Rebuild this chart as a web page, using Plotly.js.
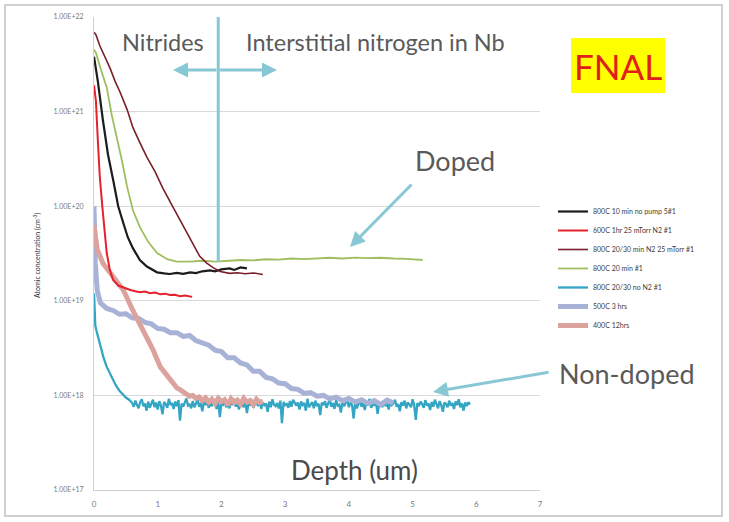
<!DOCTYPE html>
<html>
<head>
<meta charset="utf-8">
<script src="https://cdn.plot.ly/plotly-3.0.1.min.js"></script>
<style>
  html, body { margin: 0; padding: 0; background: #ffffff; }
  #chart { width: 729px; height: 522px; }
</style>
</head>
<body>
<div id="chart"></div>
<script>
// SIMS nitrogen depth profiles in Nb for several furnace treatments.
// Depth in micrometres, concentration in atoms per cm^3.

const seriesNames = [
  "800C 10 min no pump 5#1",
  "600C 1hr 25 mTorr N2 #1",
  "800C 20/30 min N2 25 mTorr #1",
  "800C 20 min #1",
  "800C 20/30 no N2 #1",
  "500C 3 hrs",
  "400C 12hrs"
];

const blackX = [0, 0.06, 0.14, 0.22, 0.30, 0.38, 0.455, 0.53, 0.61, 0.72, 0.83, 0.99, 1.10, 1.19, 1.30, 1.40, 1.51, 1.60, 1.70, 1.82, 1.90, 2.00, 2.13, 2.20, 2.30, 2.40];
const blackY = [3.8e21, 2.1e21, 8.1e20, 3.5e20, 1.9e20, 1.0e20, 6.8e19, 4.7e19, 3.6e19, 2.7e19, 2.3e19, 2.0e19, 1.95e19, 1.92e19, 1.97e19, 1.93e19, 2.0e19, 1.96e19, 2.05e19, 2.1e19, 2.05e19, 2.15e19, 2.2e19, 2.12e19, 2.25e19, 2.2e19];

const redX = [0, 0.03, 0.06, 0.09, 0.13, 0.16, 0.20, 0.25, 0.30, 0.38, 0.46, 0.57, 0.65, 0.72, 0.80, 0.88, 0.96, 1.04, 1.12, 1.19, 1.27, 1.35, 1.43, 1.54];
const redY = [1.9e21, 1.3e21, 5.0e20, 2.1e20, 1.0e20, 5.6e19, 3.2e19, 2.1e19, 1.66e19, 1.45e19, 1.38e19, 1.3e19, 1.26e19, 1.23e19, 1.25e19, 1.2e19, 1.22e19, 1.17e19, 1.19e19, 1.15e19, 1.16e19, 1.12e19, 1.14e19, 1.1e19];

const maroonX = [0, 0.03, 0.09, 0.17, 0.25, 0.33, 0.41, 0.52, 0.61, 0.72, 0.83, 0.96, 1.08, 1.24, 1.40, 1.55, 1.66, 1.77, 1.87, 1.98, 2.13, 2.25, 2.37, 2.50, 2.65];
const maroonY = [6.9e21, 6.5e21, 5.0e21, 3.8e21, 2.9e21, 2.1e21, 1.6e21, 1.05e21, 6.8e20, 4.7e20, 3.3e20, 2.3e20, 1.55e20, 9.8e19, 6.2e19, 3.9e19, 2.95e19, 2.5e19, 2.24e19, 2.04e19, 1.95e19, 1.98e19, 1.93e19, 1.97e19, 1.9e19];

const greenX = [0, 0.03, 0.11, 0.20, 0.28, 0.36, 0.44, 0.52, 0.61, 0.72, 0.85, 0.99, 1.15, 1.30, 1.50, 1.70, 1.90, 2.13, 2.30, 2.50, 2.70, 2.90, 3.10, 3.30, 3.50, 3.70, 3.90, 4.10, 4.30, 4.50, 4.70, 4.90, 5.16];
const greenY = [4.5e21, 4.2e21, 2.75e21, 1.8e21, 9.1e20, 5.4e20, 3.0e20, 1.6e20, 9.1e19, 6.0e19, 4.2e19, 3.2e19, 2.75e19, 2.6e19, 2.6e19, 2.65e19, 2.6e19, 2.65e19, 2.7e19, 2.68e19, 2.75e19, 2.72e19, 2.8e19, 2.76e19, 2.82e19, 2.85e19, 2.8e19, 2.86e19, 2.82e19, 2.85e19, 2.8e19, 2.78e19, 2.7e19];

const cyanX = [0, 0.01, 0.02, 0.04, 0.07, 0.10, 0.15, 0.20, 0.25, 0.30, 0.35, 0.40, 0.45, 0.50, 0.55, 0.575,
  0.600, 0.625, 0.650, 0.675, 0.700, 0.725, 0.750, 0.775, 0.800, 0.825, 0.850, 0.875, 0.900, 0.925, 0.950, 0.975, 1.000, 1.025, 1.050, 1.075,
  1.100, 1.125, 1.150, 1.175, 1.200, 1.225, 1.250, 1.275, 1.300, 1.325, 1.350, 1.375, 1.400, 1.425, 1.450, 1.475, 1.500, 1.525, 1.550, 1.575,
  1.600, 1.625, 1.650, 1.675, 1.700, 1.725, 1.750, 1.775, 1.800, 1.825, 1.850, 1.875, 1.900, 1.925, 1.950, 1.975, 2.000, 2.025, 2.050, 2.075,
  2.100, 2.125, 2.150, 2.175, 2.200, 2.225, 2.250, 2.275, 2.300, 2.325, 2.350, 2.375, 2.400, 2.425, 2.450, 2.475, 2.500, 2.525, 2.550, 2.575,
  2.600, 2.625, 2.650, 2.675, 2.700, 2.725, 2.750, 2.775, 2.800, 2.825, 2.850, 2.875, 2.900, 2.925, 2.950, 2.975, 3.000, 3.025, 3.050, 3.075,
  3.100, 3.125, 3.150, 3.175, 3.200, 3.225, 3.250, 3.275, 3.300, 3.325, 3.350, 3.375, 3.400, 3.425, 3.450, 3.475, 3.500, 3.525, 3.550, 3.575,
  3.600, 3.625, 3.650, 3.675, 3.700, 3.725, 3.750, 3.775, 3.800, 3.825, 3.850, 3.875, 3.900, 3.925, 3.950, 3.975, 4.000, 4.025, 4.050, 4.075,
  4.100, 4.125, 4.150, 4.175, 4.200, 4.225, 4.250, 4.275, 4.300, 4.325, 4.350, 4.375, 4.400, 4.425, 4.450, 4.475, 4.500, 4.525, 4.550, 4.575,
  4.600, 4.625, 4.650, 4.675, 4.700, 4.725, 4.750, 4.775, 4.800, 4.825, 4.850, 4.875, 4.900, 4.925, 4.950, 4.975, 5.000, 5.025, 5.050, 5.075,
  5.100, 5.125, 5.150, 5.175, 5.200, 5.225, 5.250, 5.275, 5.300, 5.325, 5.350, 5.375, 5.400, 5.425, 5.450, 5.475, 5.500, 5.525, 5.550, 5.575,
  5.600, 5.625, 5.650, 5.675, 5.700, 5.725, 5.750, 5.775, 5.800, 5.825, 5.850, 5.875, 5.900];
const cyanY = [1.2e19, 8.0e18, 5.5e18, 4.8e18, 4.0e18, 3.3e18, 2.5e18, 2.0e18, 1.7e18, 1.45e18, 1.25e18, 1.12e18, 1.02e18, 9.5e17, 9.0e17, 8.6e17,
  8.3e17, 7.6e17, 8.8e17, 7.9e17, 7.3e17, 8.5e17, 9.1e17, 7.7e17, 8.2e17, 6.9e17, 8.6e17, 7.4e17, 8.0e17, 9.0e17, 7.5e17, 8.4e17, 7.1e17, 8.7e17, 7.8e17, 6.3e17,
  8.5e17, 8.1e17, 7.4e17, 9.2e17, 7.9e17, 8.3e17, 7.2e17, 8.6e17, 7.7e17, 8.9e17, 5.4e17, 8.2e17, 7.6e17, 8.4e17, 9.3e17, 7.8e17, 8.0e17, 7.3e17, 8.7e17, 7.5e17,
  8.1e17, 9.0e17, 7.6e17, 8.3e17, 6.8e17, 8.5e17, 7.9e17, 8.8e17, 7.4e17, 8.2e17, 7.7e17, 9.1e17, 8.0e17, 7.2e17, 8.6e17, 5.9e17, 8.4e17, 7.8e17, 8.9e17, 7.5e17,
  8.2e17, 7.3e17, 8.7e17, 7.9e17, 9.2e17, 7.6e17, 8.4e17, 7.1e17, 8.8e17, 8.0e17, 7.5e17, 8.6e17, 6.5e17, 8.3e17, 7.8e17, 9.0e17, 7.4e17, 8.1e17, 8.5e17, 7.7e17,
  8.9e17, 7.2e17, 8.4e17, 7.9e17, 8.2e17, 6.7e17, 8.6e17, 7.5e17, 9.1e17, 8.0e17, 7.7e17, 8.3e17, 7.3e17, 8.8e17, 5.1e17, 8.5e17, 7.9e17, 8.1e17, 7.4e17, 8.7e17,
  7.6e17, 9.0e17, 8.2e17, 7.8e17, 8.4e17, 7.1e17, 8.6e17, 7.9e17, 8.3e17, 6.9e17, 9.2e17, 7.5e17, 8.0e17, 8.5e17, 7.3e17, 8.8e17, 7.7e17, 8.2e17, 6.2e17, 8.4e17,
  7.9e17, 8.7e17, 7.4e17, 8.1e17, 9.1e17, 7.6e17, 8.3e17, 7.2e17, 8.9e17, 7.8e17, 8.0e17, 6.6e17, 8.5e17, 7.7e17, 8.2e17, 9.0e17, 7.5e17, 8.4e17, 7.9e17, 5.7e17,
  8.6e17, 7.3e17, 8.1e17, 8.8e17, 7.6e17, 8.3e17, 7.0e17, 8.5e17, 7.9e17, 9.2e17, 7.4e17, 8.2e17, 7.8e17, 8.7e17, 6.4e17, 8.0e17, 8.4e17, 7.5e17, 8.9e17, 7.7e17,
  8.2e17, 7.1e17, 8.6e17, 7.9e17, 8.3e17, 9.0e17, 7.6e17, 8.1e17, 6.8e17, 8.5e17, 7.8e17, 8.8e17, 7.3e17, 8.4e17, 8.0e17, 7.5e17, 9.1e17, 7.9e17, 5.5e17, 8.3e17,
  7.7e17, 8.6e17, 8.1e17, 7.4e17, 8.9e17, 7.8e17, 8.2e17, 7.0e17, 8.5e17, 7.6e17, 9.0e17, 8.0e17, 7.3e17, 8.7e17, 7.9e17, 6.7e17, 8.4e17, 8.1e17, 7.5e17, 8.8e17,
  7.8e17, 8.3e17, 7.2e17, 8.6e17, 7.9e17, 9.1e17, 7.5e17, 8.2e17, 6.9e17, 8.4e17, 7.7e17, 8.5e17, 8.0e17];

const lavenderX = [0, 0.02, 0.05, 0.10, 0.20, 0.30, 0.40, 0.50, 0.60, 0.70, 0.80, 0.90, 1.00, 1.10, 1.20, 1.30, 1.40, 1.50, 1.60, 1.70, 1.80, 1.90, 2.00, 2.10, 2.20, 2.30, 2.40, 2.50, 2.60, 2.70, 2.80, 2.90, 3.00, 3.10, 3.20, 3.30, 3.40, 3.50, 3.60, 3.70, 3.80, 3.90, 4.00, 4.10, 4.20, 4.30, 4.40, 4.50, 4.60, 4.70];
const lavenderY = [1.0e20, 2.5e19, 1.3e19, 9.5e18, 8.3e18, 7.9e18, 7.2e18, 7.3e18, 6.6e18, 6.5e18, 5.9e18, 5.7e18, 5.1e18, 5.0e18, 4.6e18, 4.6e18, 4.2e18, 4.3e18, 3.8e18, 3.6e18, 3.4e18, 3.0e18, 2.9e18, 2.5e18, 2.5e18, 2.2e18, 2.1e18, 1.8e18, 1.8e18, 1.55e18, 1.5e18, 1.35e18, 1.33e18, 1.18e18, 1.16e18, 1.05e18, 1.07e18, 9.8e17, 1.0e18, 9.2e17, 9.6e17, 8.8e17, 9.3e17, 8.5e17, 9.0e17, 8.2e17, 8.8e17, 8.0e17, 8.9e17, 8.3e17];

const pinkX = [0, 0.05, 0.14, 0.30, 0.46, 0.61, 0.77, 0.93, 1.04, 1.19, 1.30, 1.35, 1.40, 1.45, 1.50, 1.55, 1.60, 1.65, 1.70, 1.75, 1.80, 1.85, 1.90, 1.95, 2.00, 2.05, 2.10, 2.15, 2.20, 2.25, 2.30, 2.35, 2.40, 2.45, 2.50, 2.55, 2.60, 2.65];
const pinkY = [6.3e19, 3.5e19, 2.5e19, 1.8e19, 1.3e19, 7.9e18, 4.9e18, 3.0e18, 2.0e18, 1.45e18, 1.2e18, 1.15e18, 1.08e18, 1.02e18, 9.8e17, 1.0e18, 9.3e17, 9.6e17, 8.8e17, 9.4e17, 8.5e17, 9.1e17, 8.2e17, 9.3e17, 8.6e17, 9.0e17, 7.9e17, 9.2e17, 8.4e17, 8.9e17, 8.1e17, 9.3e17, 8.5e17, 8.8e17, 8.0e17, 9.1e17, 8.4e17, 8.7e17];

const yTickVals = [1e17, 1e18, 1e19, 1e20, 1e21, 1e22];
const yTickText = ["1.00E+17", "1.00E+18", "1.00E+19", "1.00E+20", "1.00E+21", "1.00E+22"];
const xTickVals = [0, 1, 2, 3, 4, 5, 6, 7];

const FONT = "Lato, 'Open Sans', sans-serif";

function line(name, x, y, color, width, rank) {
  return { type: "scatter", mode: "lines", name: name, x: x, y: y, legendrank: rank,
           line: { color: color, width: width }, hoverinfo: "skip" };
}

const tBlack = line(seriesNames[0], blackX, blackY, "#1c1c1c", 2.2, 1);
const tRed = line(seriesNames[1], redX, redY, "#e5222b", 2, 2);
const tMaroon = line(seriesNames[2], maroonX, maroonY, "#7a1f2b", 1.6, 3);
const tGreen = line(seriesNames[3], greenX, greenY, "#9fbf5e", 1.8, 4);
const tCyan = line(seriesNames[4], cyanX, cyanY, "#34a5c2", 2.3, 5);
const tLavender = line(seriesNames[5], lavenderX, lavenderY, "#a7b2d6", 5, 6);
const tPink = line(seriesNames[6], pinkX, pinkY, "#dba29e", 5, 7);

// broad low-level bands first, sharp profiles on top
const drawOrder = [tCyan, tLavender, tPink, tGreen, tBlack, tMaroon, tRed];

const arrowColor = "#87c8d4";
const px = v => (v - 94) / 446;   // plot-area pixel column to paper x
const py = v => (490 - v) / 473;  // plot-area pixel row to paper y

function label(text, x, y, size, color) {
  return { xref: "paper", yref: "paper", x: x, y: y, xanchor: "center", yanchor: "middle",
           text: text, showarrow: false, font: { size: size, color: color, family: FONT } };
}
function arrow(tipX, tipY, tailX, tailY) {
  return { xref: "paper", yref: "paper", x: px(tipX), y: py(tipY), ax: tailX - tipX, ay: tailY - tipY,
           text: "", showarrow: true, arrowhead: 2, arrowsize: 1, arrowwidth: 3, arrowcolor: arrowColor };
}

const layout = {
  width: 729, height: 522,
  margin: { l: 94, r: 189, t: 17, b: 32 },
  paper_bgcolor: "#ffffff", plot_bgcolor: "#ffffff",
  font: { family: FONT, color: "#595959" },
  showlegend: true,
  legend: {
    x: px(553), y: py(197), xanchor: "left", yanchor: "top",
    font: { size: 7, color: "#404040", family: FONT },
    bgcolor: "rgba(0,0,0,0)", itemwidth: 30, traceorder: "normal"
  },
  xaxis: {
    range: [0, 7], tickvals: xTickVals, showgrid: false, zeroline: false,
    showline: true, linecolor: "#d0d0d0", linewidth: 1, ticks: "",
    tickfont: { size: 8, color: "#7a7a7a", family: FONT }, ticklabelstandoff: 6
  },
  yaxis: {
    type: "log", range: [17, 22], tickvals: yTickVals, ticktext: yTickText,
    showgrid: true, gridcolor: "#d9d9d9", gridwidth: 1, zeroline: false,
    showline: true, linecolor: "#d0d0d0", linewidth: 1, ticks: "",
    tickfont: { size: 7, color: "#7a7a7a", family: FONT }, ticklabelstandoff: 8
  },
  shapes: [
    // outer frame
    { type: "rect", xref: "paper", yref: "paper", x0: px(5), x1: px(722), y0: py(516), y1: py(5),
      line: { color: "#cfcfcf", width: 2 }, layer: "below" },
    // nitride / interstitial boundary
    { type: "line", xref: "x", yref: "paper", x0: 1.95, x1: 1.95, y0: py(262), y1: 1.0,
      line: { color: arrowColor, width: 3 } },
    // FNAL box
    { type: "rect", xref: "paper", yref: "paper", x0: px(571), x1: px(665), y0: py(93), y1: py(38),
      fillcolor: "#ffff00", line: { width: 0 } }
  ],
  annotations: [
    label("Nitrides", px(163), py(42), 23.5, "#5a5a5a"),
    label("Interstitial nitrogen in Nb", px(375), py(42), 23.5, "#5a5a5a"),
    arrow(173, 70, 218, 70),
    arrow(277, 70, 218, 70),
    label("Doped", px(455), py(160), 27, "#5a5a5a"),
    arrow(350, 247, 413, 183),
    label("Non-doped", px(627), py(373), 27, "#5a5a5a"),
    arrow(433, 392, 550, 372),
    label("Depth (um)", px(354), py(470), 26, "#4a4a4a"),
    label("FNAL", px(618), py(66), 35, "#e0201c"),
    Object.assign(label("Atomic concentration (cm<sup>-3</sup>)", px(37), py(255), 7, "#333333"), { textangle: -90 })
  ]
};

Plotly.newPlot("chart", drawOrder, layout, { staticPlot: true, displayModeBar: false });
</script>
</body>
</html>
